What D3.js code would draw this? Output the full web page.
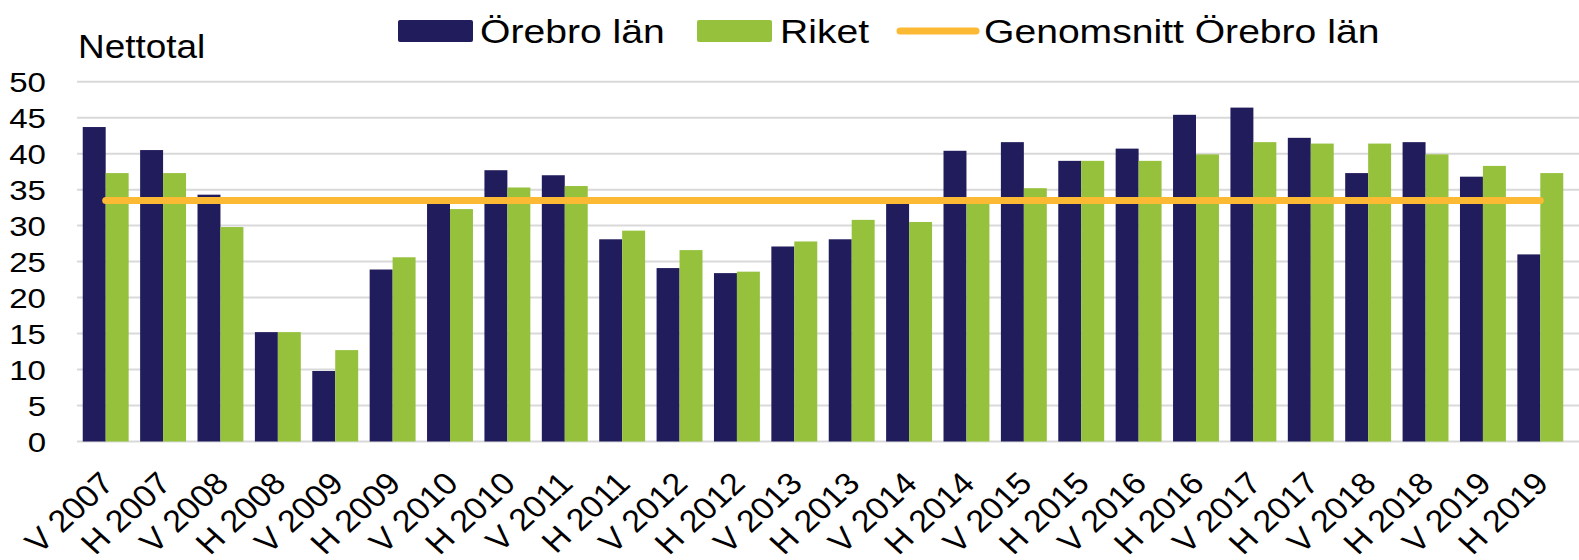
<!DOCTYPE html>
<html>
<head>
<meta charset="utf-8">
<script src="https://cdn.jsdelivr.net/npm/d3@7"></script>
<style>
  body { margin:0; background:#fff; }
  text { font-family: "Liberation Sans", Arial, sans-serif; fill:#000; }
</style>
</head>
<body>
<div id="chart-area"></div>
<script>
// data
const periods = ["V 2007","H 2007","V 2008","H 2008","V 2009","H 2009","V 2010","H 2010",
    "V 2011","H 2011","V 2012","H 2012","V 2013","H 2013","V 2014","H 2014",
    "V 2015","H 2015","V 2016","H 2016","V 2017","H 2017","V 2018","H 2018","V 2019","H 2019"];
const orebro = [43.7,40.5,34.3,15.2,9.8,23.9,33.8,37.7,
    37.0,28.1,24.1,23.4,27.1,28.1,33.9,40.4,
    41.6,39.0,40.7,45.4,46.4,42.2,37.3,41.6,36.8,26.0];
const riket = [37.3,37.3,29.8,15.2,12.7,25.6,32.3,35.3,
    35.5,29.3,26.6,23.6,27.8,30.8,30.5,33.8,
    35.2,39.0,39.0,39.9,41.6,41.4,41.4,39.9,38.3,37.3];
const average = 33.5;
const yTicks = [0,5,10,15,20,25,30,35,40,45,50];
const seriesNames = ["Örebro län","Riket","Genomsnitt Örebro län"];

const W = 1579, H = 560;
const colDark = "#211c5b", colGreen = "#95c13c", colAvg = "#fbb934";
// legend/title text in the original is drawn a bit wide
const stretch = 1.15;

const svg = d3.select("#chart-area")
    .append("svg")
    .attr("width", W)
    .attr("height", H);

const x = d3.scaleBand()
    .domain(periods)
    .range([77, 1569])
    .paddingInner(0.2)
    .paddingOuter(0.1);

const xs = d3.scaleBand()
    .domain(["o","r"])
    .range([0, x.bandwidth()]);

const y = d3.scaleLinear()
    .domain([0, 50])
    .range([441.5, 81.7]);

// gridlines
svg.append("g")
    .selectAll("line")
    .data(yTicks)
    .enter()
    .append("line")
        .attr("x1", 77)
        .attr("x2", W)
        .attr("y1", d => y(d))
        .attr("y2", d => y(d))
        .attr("stroke", "#d9d9d9")
        .attr("stroke-width", 2);

// y tick labels
svg.append("g")
    .selectAll("text")
    .data(yTicks)
    .enter()
    .append("text")
        .attr("transform", d => "translate(46," + (y(d) + 10) + ") scale(1.18,1)")
        .attr("text-anchor", "end")
        .attr("font-size", "28px")
        .text(d => d);

svg.append("text")
    .attr("transform", "translate(78,58) scale(1.12,1)")
    .attr("font-size", "33px")
    .text("Nettotal");

// bars
const groups = svg.append("g")
    .selectAll("g")
    .data(periods)
    .enter()
    .append("g")
    .attr("transform", d => "translate(" + x(d) + ",0)");

groups.append("rect")
    .attr("x", xs("o"))
    .attr("y", (d, i) => y(orebro[i]))
    .attr("width", xs.bandwidth())
    .attr("height", (d, i) => y(0) - y(orebro[i]))
    .attr("fill", colDark);

groups.append("rect")
    .attr("x", xs("r"))
    .attr("y", (d, i) => y(riket[i]))
    .attr("width", xs.bandwidth())
    .attr("height", (d, i) => y(0) - y(riket[i]))
    .attr("fill", colGreen);

// average line
svg.append("line")
    .attr("x1", x(periods[0]) + x.bandwidth() / 2)
    .attr("x2", x(periods[periods.length - 1]) + x.bandwidth() / 2)
    .attr("y1", y(average))
    .attr("y2", y(average))
    .attr("stroke", colAvg)
    .attr("stroke-width", 7)
    .attr("stroke-linecap", "round");

// x labels, rotated
svg.append("g")
    .selectAll("text")
    .data(periods)
    .enter()
    .append("text")
        .attr("transform", d => "translate(" + (x(d) + x.bandwidth() / 2 - 7) + ",470) scale(1.1,1) rotate(-45)")
        .attr("text-anchor", "end")
        .attr("dy", "0.7em")
        .attr("font-size", "31px")
        .text(d => d);

// legend
const leg = svg.append("g");
leg.append("rect").attr("x", 398).attr("y", 20).attr("width", 75).attr("height", 22).attr("rx", 2).attr("fill", colDark);
leg.append("text").attr("transform", "translate(480,43) scale(" + stretch + ",1)").attr("font-size", "34px").text(seriesNames[0]);
leg.append("rect").attr("x", 697).attr("y", 20).attr("width", 75).attr("height", 22).attr("rx", 2).attr("fill", colGreen);
leg.append("text").attr("transform", "translate(780,43) scale(" + stretch + ",1)").attr("font-size", "34px").text(seriesNames[1]);
leg.append("line").attr("x1", 900).attr("x2", 976).attr("y1", 31).attr("y2", 31)
    .attr("stroke", colAvg).attr("stroke-width", 7).attr("stroke-linecap", "round");
leg.append("text").attr("transform", "translate(984,43) scale(" + stretch + ",1)").attr("font-size", "34px").text(seriesNames[2]);
</script>
</body>
</html>
